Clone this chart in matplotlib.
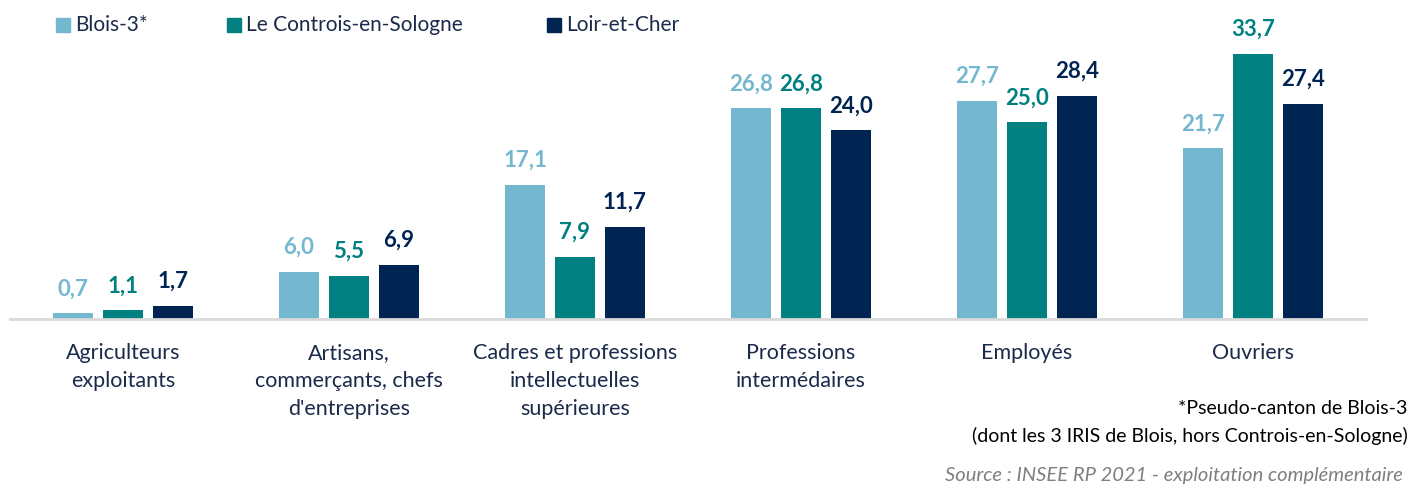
import matplotlib
matplotlib.use("Agg")
from matplotlib import pyplot as plt
from matplotlib.patches import Rectangle
import numpy as np

plt.rcParams['font.family'] = ['Lato', 'DejaVu Sans']

categories = ['Agriculteurs\nexploitants',
              'Artisans,\ncommerçants, chefs\nd\'entreprises',
              'Cadres et professions\nintellectuelles\nsupérieures',
              'Professions\nintermédaires',
              'Employés',
              'Ouvriers']

series_names = ['Blois-3*', 'Le Controis-en-Sologne', 'Loir-et-Cher']
blois = [0.7, 6.0, 17.1, 26.8, 27.7, 21.7]
controis = [1.1, 5.5, 7.9, 26.8, 25.0, 33.7]
loir = [1.7, 6.9, 11.7, 24.0, 28.4, 27.4]

colors = ['#74B8CF', '#008080', '#002451']
text_col = '#1B2A4A'

fig = plt.figure(figsize=(14.1, 4.84), dpi=100)
ax = fig.add_axes([10 / 1410, (484 - 319) / 484, 1356 / 1410, 309 / 484])

x = np.arange(len(categories))
w = 0.177
step = 0.221
for i, (vals, col) in enumerate(zip([blois, controis, loir], colors)):
    pos = x + (i - 1) * step
    ax.bar(pos, vals, width=w, color=col, zorder=2)
    for p, v in zip(pos, vals):
        ax.annotate(f"{v:.1f}".replace('.', ','), (p, v), xytext=(0, 13),
                    textcoords='offset points', ha='center', va='baseline',
                    fontsize=16, fontweight='bold', color=col)

ax.set_xlim(-0.5, len(categories) - 0.5)
ax.set_ylim(0, 39.3)
ax.set_xticks(x)
ax.set_xticklabels(categories, fontsize=15.5, color=text_col, linespacing=1.5)
ax.tick_params(axis='x', length=0, pad=17)
ax.set_yticks([])
for s in ['top', 'right', 'left']:
    ax.spines[s].set_visible(False)
ax.spines['bottom'].set_color('#D9D9D9')
ax.spines['bottom'].set_linewidth(2)

# legend drawn by hand at the top
leg_x = [56, 227, 547]
for lx, name, col in zip(leg_x, series_names, colors):
    fig.patches.append(Rectangle((lx / 1410, 1 - 32 / 484), 14 / 1410, 14 / 484,
                                 transform=fig.transFigure, color=col))
    fig.text((lx + 19) / 1410, 1 - 25 / 484, name, fontsize=15, color=text_col,
             va='center', ha='left')

fig.text(1407 / 1410, 1 - 409 / 484, '*Pseudo-canton de Blois-3', fontsize=14,
         ha='right', va='center', color='black')
fig.text(1408 / 1410, 1 - 436 / 484, '(dont les 3 IRIS de Blois, hors Controis-en-Sologne)',
         fontsize=14, ha='right', va='center', color='black')
fig.text(1403 / 1410, 1 - 476 / 484, 'Source : INSEE RP 2021 - exploitation complémentaire',
         fontsize=14.5, ha='right', va='center', color='#7F7F7F', style='italic')

fig.savefig('out.png', dpi=100)
